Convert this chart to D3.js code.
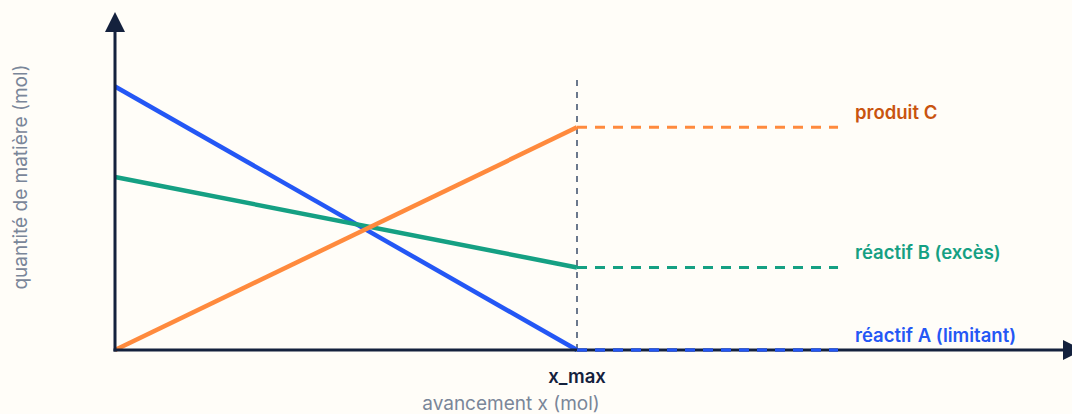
<!DOCTYPE html>
<html>
<head>
<meta charset="utf-8">
<script src="https://cdn.jsdelivr.net/npm/d3@7"></script>
<style>
  body { margin: 0; background: #fffdf8; }
  svg { display: block; font-family: Inter, "Noto Sans", sans-serif; }
</style>
</head>
<body>
<svg id="chart" width="1072" height="414"></svg>
<script>
// avancement x (mol): start, x_max, end of the dashed part
const xPoints = [0, 1, 1.565];
const xMaxLabel = "x_max";

// quantités de matière (mol) at x = 0 and at x = x_max
const series = [
  { name: "réactif A (limitant)", start: 3.0, end: 0.0, color: "#2457f5", labelColor: "#2457f5" },
  { name: "réactif B (excès)", start: 1.97, end: 0.94, color: "#15a083", labelColor: "#15a083" },
  { name: "produit C", start: 0.0, end: 2.535, color: "#ff8a3d", labelColor: "#c9540f" }
];

const svg = d3.select("#chart");
const width = 1072, height = 414;
const margin = { left: 115, bottom: 64 };

const x = d3.scaleLinear().domain([0, 1]).range([margin.left, 577]);
const y = d3.scaleLinear().domain([0, 3]).range([height - margin.bottom, 86.5]);

const axisColor = "#14213d";

// vertical x_max marker
svg.append("line")
  .attr("x1", x(1)).attr("x2", x(1))
  .attr("y1", 80).attr("y2", y(0))
  .attr("stroke", "#6b788c")
  .attr("stroke-width", 2)
  .attr("stroke-dasharray", "6,6");

const line = d3.line().x(d => x(d[0])).y(d => y(d[1]));

series.forEach(s => {
  // solid part up to x_max
  svg.append("path")
    .attr("d", line([[xPoints[0], s.start], [xPoints[1], s.end]]))
    .attr("fill", "none")
    .attr("stroke", s.color)
    .attr("stroke-width", 4.5);

  // dashed plateau after x_max
  svg.append("path")
    .attr("d", line([[xPoints[1], s.end], [xPoints[2], s.end]]))
    .attr("fill", "none")
    .attr("stroke", s.color)
    .attr("stroke-width", 3)
    .attr("stroke-dasharray", "10,8");

  svg.append("text")
    .attr("x", 855)
    .attr("y", y(s.end) - 8)
    .attr("fill", s.labelColor)
    .attr("font-size", 18.5)
    .attr("font-weight", 600)
    .text(s.name);
});

// axes with arrows
svg.append("line")
  .attr("x1", x(0)).attr("x2", x(0))
  .attr("y1", y(0) + 1.5).attr("y2", 30)
  .attr("stroke", axisColor).attr("stroke-width", 3);
svg.append("path")
  .attr("d", `M${x(0) - 10},32 L${x(0)},12 L${x(0) + 10},32 Z`)
  .attr("fill", axisColor);

svg.append("line")
  .attr("x1", x(0) - 1.5).attr("x2", 1065)
  .attr("y1", y(0)).attr("y2", y(0))
  .attr("stroke", axisColor).attr("stroke-width", 3);
svg.append("path")
  .attr("d", `M1063,${y(0) - 10} L1083,${y(0)} L1063,${y(0) + 10} Z`)
  .attr("fill", axisColor);

// redraw blue dashed on top of x axis
svg.append("path")
  .attr("d", line([[xPoints[1], 0], [xPoints[2], 0]]))
  .attr("fill", "none")
  .attr("stroke", series[0].color)
  .attr("stroke-width", 3)
  .attr("stroke-dasharray", "10,8");

// x_max tick label
svg.append("text")
  .attr("x", x(1))
  .attr("y", 383)
  .attr("text-anchor", "middle")
  .attr("fill", axisColor)
  .attr("font-size", 18.5)
  .attr("font-weight", 600)
  .text(xMaxLabel);

// axis titles
svg.append("text")
  .attr("x", 511)
  .attr("y", 410)
  .attr("text-anchor", "middle")
  .attr("fill", "#7a8699")
  .attr("font-size", 19)
  .text("avancement x (mol)");

svg.append("text")
  .attr("transform", "translate(27,177) rotate(-90)")
  .attr("text-anchor", "middle")
  .attr("fill", "#7a8699")
  .attr("font-size", 19)
  .text("quantité de matière (mol)");
</script>
</body>
</html>
